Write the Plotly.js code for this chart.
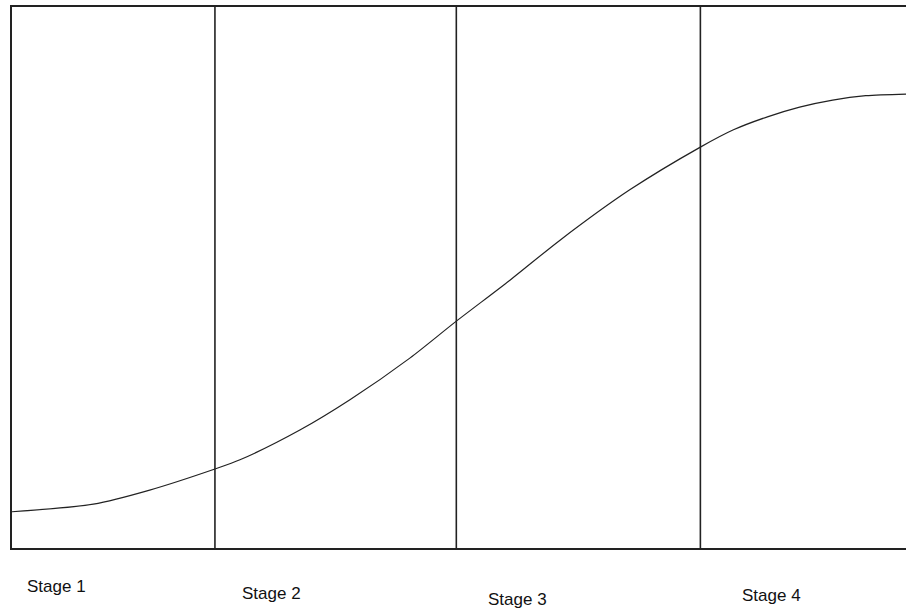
<!DOCTYPE html>
<html>
<head>
<meta charset="utf-8">
<script src="https://cdn.plot.ly/plotly-3.0.1.min.js"></script>
<style>
  html, body { margin: 0; padding: 0; background: #fff; }
  #chart { width: 906px; height: 613px; }
</style>
</head>
<body>
<div id="chart"></div>
<script>
// Growth curve (time 0..100, level 0..100)
const curveX = [0, 9.1, 15.4, 22.7, 25.5, 32.2, 37.8, 44.5, 49.6, 55.7, 61.3, 69.1, 77.0, 80.7, 84.5, 88.1, 91.8, 95.5, 100];
const curveY = [6.7, 8.1, 10.7, 14.6, 16.3, 21.8, 27.4, 35.1, 41.8, 49.5, 56.9, 66.2, 74.1, 77.3, 79.7, 81.5, 82.8, 83.6, 83.9];

// Stage boundaries (time)
const boundaries = [22.7, 49.7, 77.0];

// Stage labels
const stageLabels = ["Stage 1", "Stage 2", "Stage 3", "Stage 4"];
const stageLabelX = [1.5, 25.5, 53.0, 81.4];
const stageLabelY = [-0.072, -0.085, -0.095, -0.088];

const shapes = boundaries.map(b => ({
  type: 'line', xref: 'x', yref: 'paper', x0: b, x1: b, y0: 0, y1: 1,
  line: { color: '#222', width: 1.6 }
}));

const annotations = stageLabels.map((t, i) => ({
  text: t, xref: 'x', yref: 'paper', x: stageLabelX[i], y: stageLabelY[i],
  xanchor: 'left', yanchor: 'middle', showarrow: false,
  font: { family: 'Liberation Sans, Arial, sans-serif', size: 17, color: '#111' }
}));

const trace = {
  x: curveX, y: curveY, type: 'scatter', mode: 'lines',
  line: { color: '#222', width: 1.2, shape: 'spline', smoothing: 0.8 },
  hoverinfo: 'skip'
};

const layout = {
  width: 906, height: 613,
  margin: { l: 12, r: 0, t: 7, b: 65 },
  paper_bgcolor: '#fff', plot_bgcolor: '#fff',
  showlegend: false,
  xaxis: { range: [0, 100], showgrid: false, zeroline: false, showticklabels: false,
           ticks: '', showline: true, mirror: true, linecolor: '#222', linewidth: 1.6 },
  yaxis: { range: [0, 100], showgrid: false, zeroline: false, showticklabels: false,
           ticks: '', showline: true, mirror: false, linecolor: '#222', linewidth: 1.6 },
  shapes: shapes,
  annotations: annotations
};

Plotly.newPlot('chart', [trace], layout, { displayModeBar: false, staticPlot: true });
</script>
</body>
</html>
